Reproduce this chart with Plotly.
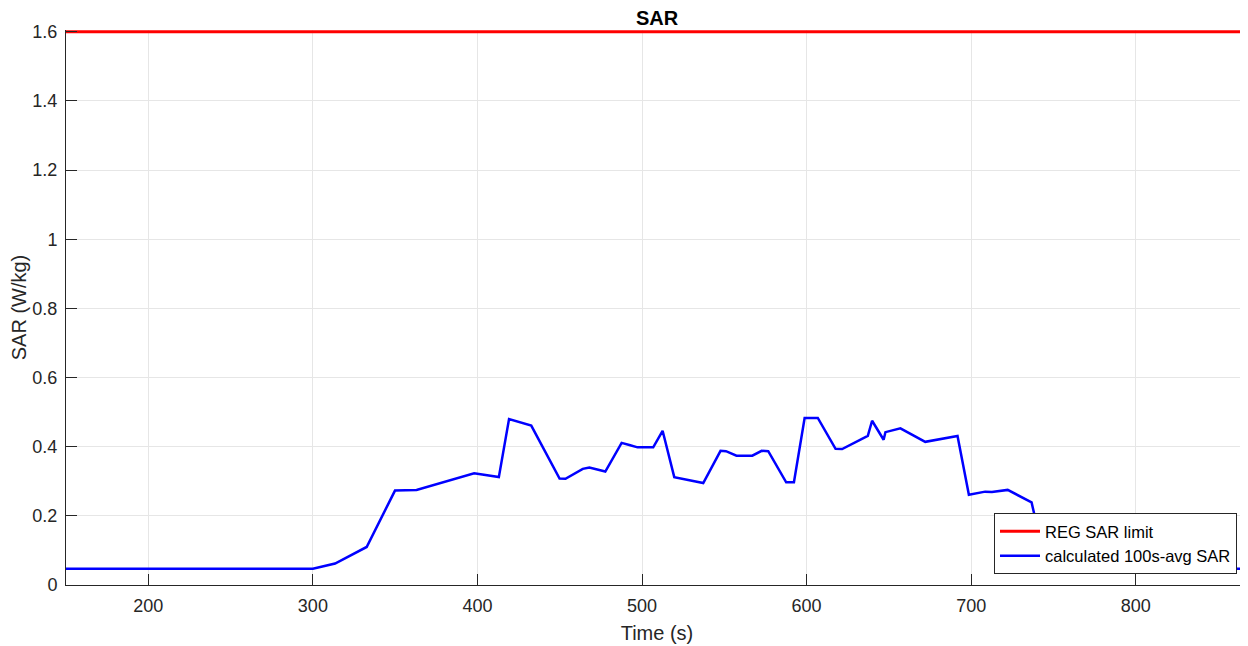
import plotly.graph_objects as go

# Data
time_s = [150, 280, 300, 313.5, 332.7, 349.9, 363, 398, 413, 419.2, 432.7, 449.9, 453.5,
          464, 468, 477.7, 487.6, 492.3, 497.3, 506.8, 512.5, 519.6, 537.2, 547.7, 551,
          557.4, 567, 572.7, 576.7, 587.6, 592.3, 598.8, 606.8, 617.6, 621.6, 637.2, 639.8,
          646.8, 647.9, 657, 672.1, 691.7, 698.6, 708.5, 712.6, 722.2, 736.7, 739.8, 742,
          748, 752, 868.2]
sar_avg = [0.047, 0.047, 0.047, 0.062, 0.110, 0.273, 0.275, 0.323, 0.312, 0.480, 0.461,
           0.308, 0.307, 0.336, 0.340, 0.328, 0.411, 0.405, 0.398, 0.398, 0.446, 0.312,
           0.295, 0.388, 0.387, 0.374, 0.374, 0.388, 0.387, 0.297, 0.297, 0.483, 0.483,
           0.394, 0.393, 0.431, 0.475, 0.420, 0.442, 0.453, 0.414, 0.431, 0.261, 0.270,
           0.269, 0.275, 0.239, 0.174, 0.160, 0.070, 0.047, 0.047]
limit_x = [150, 868.2]
limit_y = [1.6, 1.6]

x_ticks = [200, 300, 400, 500, 600, 700, 800]
y_ticks = [0, 0.2, 0.4, 0.6, 0.8, 1.0, 1.2, 1.4, 1.6]
y_labels = ["0", "0.2", "0.4", "0.6", "0.8", "1", "1.2", "1.4", "1.6"]

FONT = "Liberation Sans, Arial, sans-serif"

fig = go.Figure()
fig.add_trace(go.Scatter(x=limit_x, y=limit_y, mode="lines", name="REG SAR limit",
                         line=dict(color="#ff0000", width=3)))
fig.add_trace(go.Scatter(x=time_s, y=sar_avg, mode="lines", name="calculated 100s-avg SAR",
                         line=dict(color="#0000ff", width=2.5)))

# the page body has an 8px margin, so the figure is sized to fill the rest of the window
W, H = 1240, 638
fig.update_layout(
    width=W, height=H,
    margin=dict(l=58, r=0, t=22, b=61),
    paper_bgcolor="white", plot_bgcolor="white",
    font=dict(family=FONT, size=18, color="#262626"),
    title=dict(text="<b>SAR</b>", x=(58 + W) / 2 / W, xanchor="center",
               y=1 - 10 / H, yanchor="middle", font=dict(size=20, color="#000000")),
    showlegend=True,
    legend=dict(x=0.9907, y=0.0198, xanchor="right", yanchor="bottom",
                bgcolor="white", bordercolor="#262626", borderwidth=1,
                font=dict(size=16.5, color="#000000"), tracegroupgap=0,
                itemwidth=40),
    xaxis=dict(range=[150, 868.2], tickvals=x_ticks, ticks="inside", ticklen=11,
               tickcolor="#262626", showline=True, linecolor="#262626", linewidth=1,
               showgrid=True, gridcolor="#e6e6e6", zeroline=False,
               ticklabelstandoff=4,
               title=dict(text="Time (s)", standoff=11, font=dict(size=20))),
    yaxis=dict(range=[0, 1.605], tickvals=y_ticks, ticktext=y_labels, ticks="inside",
               ticklen=11, tickcolor="#262626", showline=True, linecolor="#262626",
               linewidth=1, showgrid=True, gridcolor="#e6e6e6", zeroline=False,
               ticklabelstandoff=4,
               title=dict(text="SAR (W/kg)", standoff=10, font=dict(size=20))),
)

fig.write_html("out.html")
